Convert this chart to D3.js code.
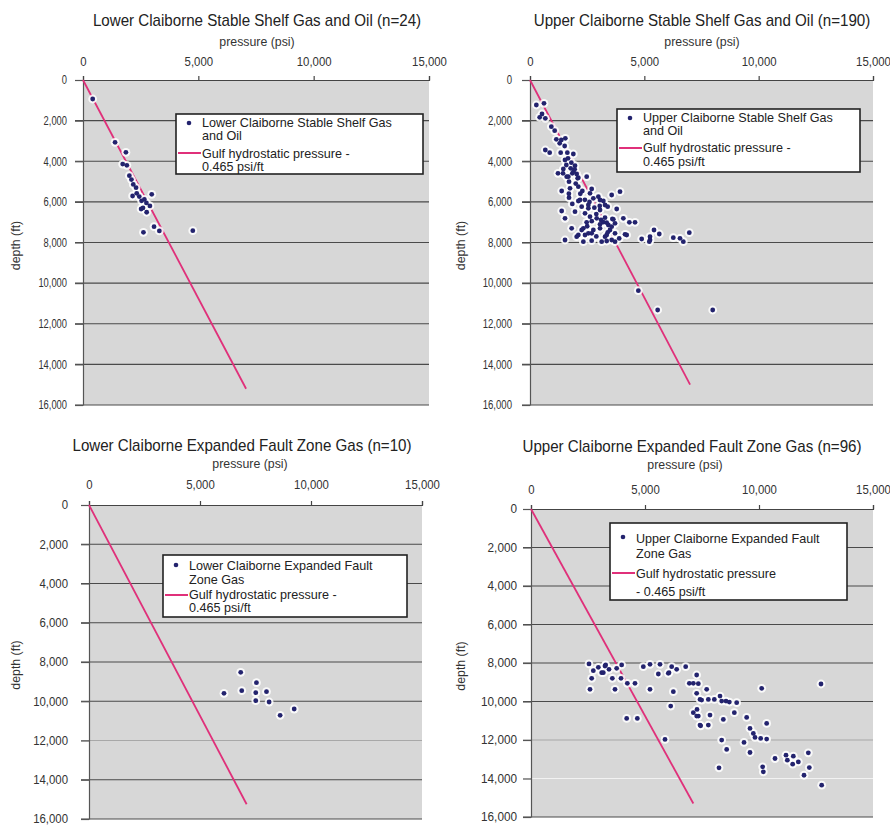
<!DOCTYPE html>
<html>
<head>
<meta charset="utf-8">
<script src="https://cdn.jsdelivr.net/npm/d3@7"></script>
<style>
  body { margin: 0; background: #fff; }
  svg { display: block; font-family: "Liberation Sans", Arial, sans-serif; }
</style>
</head>
<body>
<svg id="chart" width="890" height="825"></svg>
<script>
// axis ticks
const xTicks = [0, 5000, 10000, 15000];
const yTicks = [0, 2000, 4000, 6000, 8000, 10000, 12000, 14000, 16000];

// [pressure psi, depth ft]
const lowerShelf = [
  [420, 935], [1390, 3070], [1860, 3560], [1720, 4140], [1900, 4200], [2010, 4710],
  [2100, 4900], [2180, 5140], [2330, 5580], [2150, 5710], [2440, 5740], [2660, 5880],
  [2980, 5630], [2540, 5950], [2750, 6050], [2520, 6350], [2760, 6510], [2600, 6300],
  [3080, 7220], [3310, 7430], [2620, 7500], [4760, 7420], [2300, 5300], [2900, 6200]
];

const upperShelf = [
  [277, 1231], [612, 1149], [525, 1674], [423, 1838], [670, 1887], [933, 2297], [1079, 2494],
  [1152, 2921], [1370, 2954], [1545, 2872], [1298, 3118], [670, 3446], [860, 3577], [1341, 3577],
  [1633, 3577], [1516, 3249], [1662, 3856], [1808, 4069], [1589, 4184], [1778, 4348], [1954, 4398],
  [1224, 4595], [1443, 4595], [1895, 3643], [1531, 3938], [1968, 4217], [2041, 4627], [1604, 4759],
  [1706, 5005], [2114, 4808], [2479, 4759], [1458, 4382], [1677, 4759], [1851, 4595], [2084, 4841],
  [1385, 5464], [1749, 5333], [2114, 5251], [2289, 5464], [2624, 5579], [2697, 5366], [2770, 5825],
  [2989, 5743], [3208, 5957], [3572, 5661], [3936, 5497], [1706, 5793], [2114, 5957], [2260, 6236],
  [2552, 6154], [2814, 6285], [3062, 6400], [3397, 6236], [3791, 6351], [2406, 6564], [1968, 6482],
  [1385, 6449], [1531, 6810], [2624, 6728], [2916, 6810], [3281, 6777], [3602, 6843], [4082, 6810],
  [4345, 7007], [4593, 7007], [2478, 7007], [3062, 7105], [3426, 7138], [3718, 7056], [1822, 7302],
  [2333, 7302], [2770, 7384], [3062, 7302], [3499, 7384], [2114, 7630], [2552, 7548], [3281, 7712],
  [3718, 7548], [4155, 7597], [1531, 7877], [2333, 7959], [3353, 7926], [3718, 7959], [4884, 7828],
  [5249, 7877], [4228, 7631], [5423, 7385], [5654, 7582], [5248, 7713], [5218, 7959], [6267, 7762],
  [6559, 7795], [6705, 7959], [6967, 7516], [4738, 10372], [5583, 11323], [7990, 11323],
  [3062, 5908], [3281, 6154], [2187, 5908], [2552, 6318], [3106, 6892], [3354, 7023], [3645, 6859],
  [2260, 7385], [3572, 7220], [2406, 7631], [2697, 7549], [3354, 7631], [3572, 7877], [3135, 7959],
  [2041, 7713], [2697, 7910], [1900, 4500], [2000, 5100], [2200, 5600], [2400, 5900], [2600, 6000],
  [2900, 6600], [3200, 7000], [3400, 7500], [3900, 7800], [2900, 7700], [2500, 7200], [1700, 5600],
  [1850, 6100], [2700, 6950], [3050, 6200]
];

const lowerFault = [
  [6834, 8527], [7543, 9054], [6080, 9597], [6880, 9462], [7512, 9564],
  [7995, 9513], [7512, 9972], [8113, 10039], [8610, 10718], [9243, 10396]
];

const upperFault = [
  [2544, 8050], [2734, 8397], [2953, 8224], [3099, 8502], [3275, 8102], [3421, 8328], [3567, 8797],
  [3684, 9369], [3976, 8102], [3947, 8797], [4225, 9057], [4561, 9057], [2661, 8797], [2588, 9369],
  [4196, 10878], [4664, 10878], [4927, 8189], [5219, 8068], [5219, 9369], [5658, 8068], [5585, 8571],
  [6053, 8502], [6170, 8189], [6389, 8328], [6784, 8189], [6243, 9490], [6126, 10237], [5877, 11972],
  [6945, 9057], [7120, 9057], [7266, 8623], [7339, 9074], [7266, 9577], [7705, 9369], [7778, 9890],
  [7412, 9890], [8041, 9890], [8290, 9716], [8553, 9976], [9021, 10063], [7281, 10410], [7120, 10583],
  [7339, 10757], [7851, 10705], [7412, 11225], [7778, 11225], [8436, 10930], [8918, 10583],
  [9459, 10826], [9606, 11399], [9752, 11659], [9825, 11867], [10073, 11919], [10336, 11954],
  [10117, 9317], [10336, 11139], [8363, 12006], [9342, 12128], [8582, 12492], [9606, 12649],
  [8246, 13446], [10160, 13394], [10190, 13654], [10702, 12962], [11184, 12788], [11243, 13049],
  [11506, 12841], [11477, 13257], [11725, 13136], [12163, 12668], [12207, 13431], [11974, 13830],
  [12719, 9091], [12749, 14349], [3245, 8156], [3172, 8503], [3757, 8277], [6022, 8536], [7485, 9925],
  [8699, 10030], [7266, 10758], [7442, 11262], [8363, 9977]
];

// Gulf hydrostatic gradient, 0.465 psi/ft, as drawn in each panel
const hydroLowerShelf = [[0, 0], [7070, 15200]];
const hydroUpperShelf = [[0, 0], [7000, 15000]];
const hydroLowerFault = [[0, 0], [7100, 15250]];
const hydroUpperFault = [[0, 0], [7120, 15300]];

const hydroText = ['Gulf hydrostatic pressure -', '0.465 psi/ft'];

const panels = [
  { title: 'Lower Claiborne Stable Shelf Gas and Oil (n=24)', data: lowerShelf, hydro: hydroLowerShelf,
    left: 83, right: 429, top: 80, bottom: 405, titleX: 257, titleY: 26, labelX: 257, labelY: 46,
    xPad: 10, yPad: 8, ySx: 0.78, depthX: 20,
    legend: { x: 176, y: 114, w: 247, h: 60, series: ['Lower Claiborne Stable Shelf Gas', 'and Oil'],
      hydro: hydroText, sBase: [13, 26], hBase: [44, 57], markerY: 9, lineY: 39 } },
  { title: 'Upper Claiborne Stable Shelf Gas and Oil (n=190)', data: upperShelf, hydro: hydroUpperShelf,
    left: 530, right: 873, top: 80, bottom: 405, titleX: 702, titleY: 26, labelX: 702, labelY: 46,
    xPad: 10, yPad: 10, ySx: 0.8, depthX: 465,
    legend: { x: 617, y: 109, w: 243, h: 63, series: ['Upper Claiborne Stable Shelf Gas', 'and Oil'],
      hydro: hydroText, sBase: [13, 26], hBase: [43, 57], markerY: 9, lineY: 39 } },
  { title: 'Lower Claiborne Expanded Fault Zone Gas (n=10)', data: lowerFault, hydro: hydroLowerFault,
    left: 89, right: 422, top: 505, bottom: 819, titleX: 242, titleY: 451, labelX: 250, labelY: 468,
    xPad: 12, yPad: 13, ySx: 0.95, depthX: 20, faint: { 12000: '#a8a8a8' },
    legend: { x: 163, y: 555, w: 244, h: 62, series: ['Lower Claiborne Expanded Fault', 'Zone Gas'],
      hydro: hydroText, sBase: [15, 29], hBase: [44, 57], markerY: 10, lineY: 40 } },
  { title: 'Upper Claiborne Expanded Fault Zone Gas (n=96)', data: upperFault, hydro: hydroUpperFault,
    left: 531, right: 873, top: 509, bottom: 817, titleX: 692, titleY: 452, labelX: 685, labelY: 469,
    xPad: 11, yPad: 6, ySx: 0.98, depthX: 465, faint: { 12000: '#a8a8a8', 14000: '#f2f2f2' },
    legend: { x: 610, y: 523, w: 237, h: 77, series: ['Upper Claiborne Expanded Fault', 'Zone Gas'],
      hydro: ['Gulf hydrostatic pressure', '- 0.465 psi/ft'], sBase: [20, 35], hBase: [55, 73], markerY: 14, lineY: 50 } }
];

const svg = d3.select('#chart');
const fmt = d3.format(',');
const navy = '#23236e';
const pink = '#e0307a';

// condensed-looking text: horizontal squeeze of a regular face
function label(sel, x, y, str, size, anchor, sx, rot) {
  return sel.append('text')
    .attr('transform', `translate(${x},${y})${rot ? ' rotate(' + rot + ')' : ''} scale(${sx},1)`)
    .attr('text-anchor', anchor)
    .attr('font-size', size)
    .attr('fill', '#222')
    .text(str);
}

function drawPanel(p) {
  const x = d3.scaleLinear().domain([0, 15000]).range([p.left, p.right]);
  const y = d3.scaleLinear().domain([0, 16000]).range([p.top, p.bottom]);
  const g = svg.append('g');

  g.append('rect')
   .attr('x', p.left).attr('y', p.top)
   .attr('width', p.right - p.left).attr('height', p.bottom - p.top)
   .attr('fill', '#d7d7d7');

  // horizontal grid lines, extending out as ticks on the left
  g.selectAll('line.grid')
   .data(yTicks.slice(1))
   .join('line')
   .attr('x1', p.left - 8).attr('x2', p.right)
   .attr('y1', d => y(d)).attr('y2', d => y(d))
   .attr('stroke', d => (p.faint && p.faint[d]) || '#4a4a4a')
   .attr('stroke-width', 1.2);

  const xAxis = d3.axisTop(x).tickValues(xTicks).tickFormat(fmt)
                  .tickSizeInner(4).tickSizeOuter(4).tickPadding(p.xPad);
  const gx = g.append('g').attr('transform', `translate(0,${p.top})`).call(xAxis);
  gx.attr('font-family', null).attr('font-size', null);
  gx.selectAll('path, line').attr('stroke', '#444').attr('stroke-width', 1.2);
  gx.selectAll('text')
    .attr('font-size', 12).attr('fill', '#333')
    .attr('transform', 'scale(0.95,1)');

  const yAxis = d3.axisLeft(y).tickValues(yTicks).tickFormat(fmt)
                  .tickSizeInner(8).tickSizeOuter(0).tickPadding(p.yPad);
  const gy = g.append('g').attr('transform', `translate(${p.left},0)`).call(yAxis);
  gy.attr('font-family', null).attr('font-size', null);
  gy.selectAll('path, line').attr('stroke', '#555').attr('stroke-width', 1.2);
  gy.selectAll('text')
    .attr('font-size', 12).attr('fill', '#333')
    .attr('x', 0)
    .attr('transform', `translate(${-(8 + p.yPad)},0) scale(${p.ySx},1)`);

  // hydrostatic line
  g.append('path')
   .datum(p.hydro)
   .attr('d', d3.line().x(d => x(d[0])).y(d => y(d[1])))
   .attr('fill', 'none')
   .attr('stroke', pink)
   .attr('stroke-width', 1.8);

  // points: white halo then navy dot
  g.selectAll('circle.halo')
   .data(p.data)
   .join('circle')
   .attr('class', 'halo')
   .attr('cx', d => x(d[0])).attr('cy', d => y(d[1]))
   .attr('r', 4.4)
   .attr('fill', '#fff').attr('opacity', 0.85);
  g.selectAll('circle.dot')
   .data(p.data)
   .join('circle')
   .attr('class', 'dot')
   .attr('cx', d => x(d[0])).attr('cy', d => y(d[1]))
   .attr('r', 2.4)
   .attr('fill', navy);

  // titles
  label(g, p.titleX, p.titleY, p.title, 17, 'middle', 0.89);
  label(g, p.labelX, p.labelY, 'pressure (psi)', 13, 'middle', 0.95).attr('fill', '#333');
  label(g, p.depthX, (p.top + p.bottom) / 2 + 3, 'depth (ft)', 13, 'middle', 0.95, -90).attr('fill', '#333');

  // legend
  const L = p.legend;
  const lg = g.append('g').attr('transform', `translate(${L.x},${L.y})`);
  lg.append('rect')
    .attr('width', L.w).attr('height', L.h)
    .attr('fill', '#fff').attr('stroke', '#222').attr('stroke-width', 1.6);
  lg.append('circle').attr('cx', 13).attr('cy', L.markerY).attr('r', 2.3).attr('fill', navy);
  lg.append('line')
    .attr('x1', 2).attr('x2', 25).attr('y1', L.lineY).attr('y2', L.lineY)
    .attr('stroke', pink).attr('stroke-width', 2);
  L.series.forEach((s, i) => label(lg, 26, L.sBase[i], s, 13, 'start', 0.97));
  L.hydro.forEach((s, i) => label(lg, 26, L.hBase[i], s, 13, 'start', 0.97));
}

panels.forEach(drawPanel);
</script>
</body>
</html>
